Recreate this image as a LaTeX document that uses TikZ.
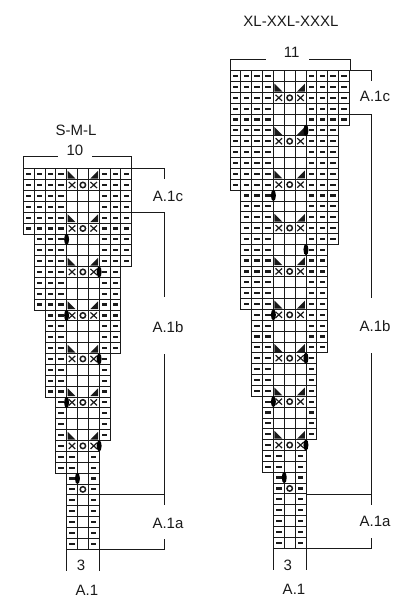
\documentclass[tikz,border=0pt]{standalone}
\usepackage{fontspec}
\setmainfont{Liberation Sans}
\usetikzlibrary{positioning}
\definecolor{tinta}{HTML}{1A1A1A}

% una fila: celdas de #1 a #2, guiones fuera de las tres columnas centrales
\newcommand{\guion}[2]{\fill[tinta] (#1+.25,#2-.6) rectangle (#1+.75,#2-.4);}
\newcommand{\fila}[3]{%
  \pgfmathtruncatemacro{\ult}{#2-1}%
  \foreach \col in {#1,...,\ult}{%
    \draw[celda] (\col,#3-1) rectangle ++(1,1);
    \ifnum\col<4 \guion{\col}{#3}\else\ifnum\col>6 \guion{\col}{#3}\fi\fi
  }}
\newcommand{\picos}[1]{%
  \fill[tinta] (4.1,#1-.8) -- (4.1,#1-.08) -- (4.82,#1-.08) -- cycle;
  \fill[tinta] (6.9,#1-.8) -- (6.9,#1-.08) -- (6.18,#1-.08) -- cycle;}
\newcommand{\aspa}[2]{\draw[marca] (#1+.2,#2-.78) -- (#1+.8,#2-.22) (#1+.2,#2-.22) -- (#1+.8,#2-.78);}
\newcommand{\ojal}[2]{\draw[marca,line width=1.5pt] (#1+.5,#2-.5) circle (.25);}
\newcommand{\cruces}[1]{\aspa{4}{#1}\ojal{5}{#1}\aspa{6}{#1}}
\newcommand{\gota}[2]{\fill[black] (#1,#2-.5) ellipse [x radius=.23,y radius=.52];}

\begin{document}
\begin{tikzpicture}[x=1pt,y=-1pt,
    celda/.style={draw=tinta,line width=.8pt},
    marca/.style={draw=tinta,line width=1.2pt},
    regla/.style={draw=tinta,line width=.95pt},
    rotulo/.style={font=\fontsize{15}{17}\selectfont\color{tinta},inner sep=0pt}]
  \useasboundingbox (0,0) rectangle (406,600);

  % S-M-L
  \begin{scope}[shift={(23.2,168.7)},x=10.85pt,y=-10.87pt]
    \foreach \desde/\hasta/\ini/\tope in {0/10/1/6,1/10/7/9,1/9/10/13,2/9/14/17,2/8/18/21,3/8/22/25,3/7/26/28,4/7/29/35}
      \foreach \f in {\ini,...,\tope} {\fila{\desde}{\hasta}{\f}}
    \foreach \f in {1,5,9,13,17,21,25} {\picos{\f}}
    \foreach \f in {2,6,10,14,18,22,26} {\cruces{\f}}
    \foreach \f in {27,...,35} {\guion{4}{\f}\guion{6}{\f}}
    \ojal{5}{30}
    \foreach \c/\f in {4/7,7/10,4/14,7/18,4/22,7/26,5/29} {\gota{\c}{\f}}
  \end{scope}

  \node[rotulo] (tallaA) at (76,130) {S-M-L};
  \node[rotulo] (anchoA) at (75,150) {10};
  \coordinate (ai) at (23.2,168.7);
  \coordinate (aii) at (58,156.7);
  \coordinate (ad) at (131.7,168.7);
  \coordinate (add) at (92.3,156.7);
  \draw[regla] (ai) |- (aii);
  \draw[regla] (ad) |- (add);
  \coordinate (acf) at (164.7,179);
  \draw[regla] (ad) -| (acf);
  \node[rotulo] (acA) at (168,196) {A.1c};
  \coordinate (abi) at (131.7,212);
  \coordinate (abf) at (164.7,297);
  \draw[regla] (abi) -| (abf);
  \node[rotulo] (abA) at (168,327) {A.1b};
  \coordinate (aat) at (164.7,354);
  \coordinate (aaf) at (164.7,505);
  \coordinate (aai) at (99.3,494.6);
  \draw[regla] (aat) -- (aaf);
  \draw[regla] (aai) -- (aai -| aaf);
  \node[rotulo] (aaA) at (168,523) {A.1a};
  \coordinate (api) at (99.3,549);
  \coordinate (apf) at (164.7,539);
  \draw[regla] (api) -| (apf);
  \coordinate (aqi) at (66.7,549);
  \coordinate (aqa) at (66.7,570.7);
  \coordinate (apa) at (99.3,570.7);
  \draw[regla] (aqi) -- (aqa);
  \draw[regla] (api) -- (apa);
  \node[rotulo] (tresA) at (81,565) {3};
  \node[rotulo] (nomA) at (87,590) {A.1};

  % XL-XXL-XXXL
  \begin{scope}[shift={(230,70.7)},x=10.85pt,y=-10.85pt]
    \foreach \desde/\hasta/\ini/\tope in {0/11/1/5,0/10/6/11,1/10/12/16,1/9/17/22,2/9/23/26,2/8/27/30,3/8/31/34,3/7/35/37,4/7/38/44}
      \foreach \f in {\ini,...,\tope} {\fila{\desde}{\hasta}{\f}}
    \foreach \f in {2,6,10,14,18,22,26,30,34} {\picos{\f}}
    \foreach \f in {3,7,11,15,19,23,27,31,35} {\cruces{\f}}
    \foreach \f in {36,...,44} {\guion{4}{\f}\guion{6}{\f}}
    \ojal{5}{39}
    \foreach \c/\f in {7/6,4/12,7/17,4/23,7/27,4/31,7/35,5/38} {\gota{\c}{\f}}
  \end{scope}

  \node[rotulo] (tallaB) at (291,21) {XL-XXL-XXXL};
  \node[rotulo] (anchoB) at (291.7,52.7) {11};
  \coordinate (bi) at (230,70.7);
  \coordinate (bii) at (266,59.3);
  \coordinate (bd) at (350,70.7);
  \coordinate (bdd) at (309.3,59.3);
  \draw[regla] (bi) |- (bii);
  \draw[regla] (bd) |- (bdd);
  \coordinate (bcf) at (371.7,80.7);
  \draw[regla] (bd) -| (bcf);
  \node[rotulo] (bcA) at (375,96.7) {A.1c};
  \coordinate (bbi) at (350,114.1);
  \coordinate (bbf) at (371.7,298.3);
  \draw[regla] (bbi) -| (bbf);
  \node[rotulo] (bbA) at (375,326) {A.1b};
  \coordinate (bat) at (371.7,353.3);
  \coordinate (baf) at (371.7,504.7);
  \coordinate (bai) at (306,494);
  \draw[regla] (bat) -- (baf);
  \draw[regla] (bai) -- (bai -| baf);
  \node[rotulo] (baA) at (375,521.7) {A.1a};
  \coordinate (bpi) at (306,548.3);
  \coordinate (bpf) at (371.7,538.3);
  \draw[regla] (bpi) -| (bpf);
  \coordinate (bqi) at (273.3,548.3);
  \coordinate (bqa) at (273.3,570);
  \coordinate (bpa) at (306,570);
  \draw[regla] (bqi) -- (bqa);
  \draw[regla] (bpi) -- (bpa);
  \node[rotulo] (tresB) at (287.7,565) {3};
  \node[rotulo] (nomB) at (294,589) {A.1};
\end{tikzpicture}
\end{document}
